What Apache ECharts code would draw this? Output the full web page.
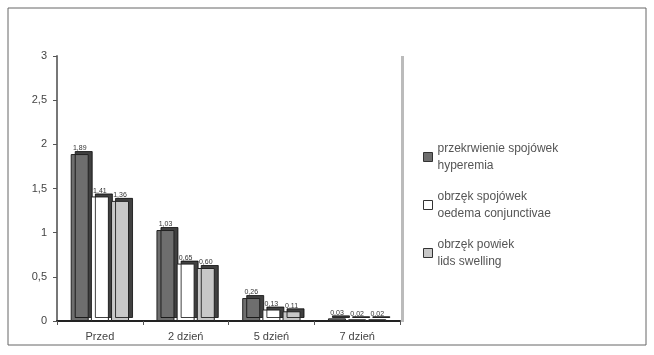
<!DOCTYPE html>
<html>
<head>
<meta charset="utf-8">
<script src="https://cdn.jsdelivr.net/npm/echarts@6/dist/echarts.min.js"></script>
<style>
  html, body { margin: 0; padding: 0; background: #fff; }
  #main { width: 654px; height: 355px; }
</style>
</head>
<body>
<div id="main"></div>
<script>
var categories = ['Przed', '2 dzień', '5 dzień', '7 dzień'];
var hyperemia = [1.89, 1.03, 0.26, 0.03];
var oedema = [1.41, 0.65, 0.13, 0.02];
var swelling = [1.36, 0.6, 0.11, 0.02];
var seriesNames = [
  'przekrwienie spojówek\nhyperemia',
  'obrzęk spojówek\noedema conjunctivae',
  'obrzęk powiek\nlids swelling'
];
var yTicks = [0, 0.5, 1, 1.5, 2, 2.5, 3];

var chart = echarts.init(document.getElementById('main'));

var textStyle = {
  color: '#444',
  fontSize: 11,
  fontFamily: 'Liberation Sans'
};

function comma(v) {
  return String(v).replace('.', ',');
}

function barSeries(name, data, color) {
  return {
    name: name,
    type: 'bar',
    data: data,
    barWidth: 18,
    barGap: '12%',
    itemStyle: {
      color: color,
      borderColor: '#222',
      borderWidth: 1,
      shadowColor: 'rgba(0,0,0,0.75)',
      shadowOffsetX: 4,
      shadowOffsetY: -3
    },
    label: {
      show: true,
      position: 'top',
      distance: 2,
      fontSize: 7,
      color: '#333',
      fontFamily: 'Liberation Sans',
      formatter: function (p) { return comma(p.value.toFixed(2)); }
    }
  };
}

var option = {
  backgroundColor: '#fff',
  animation: false,
  grid: {
    left: 57,
    right: 254,
    top: 56,
    bottom: 34
  },
  legend: {
    orient: 'vertical',
    left: 418,
    top: 135,
    itemWidth: 9,
    itemHeight: 9,
    itemGap: 14,
    icon: 'rect',
    textStyle: {
      color: '#555',
      fontSize: 12,
      lineHeight: 17,
      fontFamily: 'Liberation Sans'
    },
    data: seriesNames.map(function (n, i) {
      return {
        name: n,
        itemStyle: { borderColor: '#333', borderWidth: 1 }
      };
    })
  },
  xAxis: {
    type: 'category',
    data: categories,
    axisLine: { lineStyle: { color: '#222', width: 2 } },
    axisTick: { show: true, length: 4, lineStyle: { color: '#555' } },
    axisLabel: Object.assign({ margin: 10 }, textStyle)
  },
  yAxis: {
    type: 'value',
    min: 0,
    max: 3,
    interval: 0.5,
    axisLine: { show: true, lineStyle: { color: '#777', width: 2 } },
    axisTick: { show: true, length: 4, lineStyle: { color: '#555' } },
    splitLine: { show: false },
    axisLabel: Object.assign({
      margin: 10,
      formatter: function (v) {
        return yTicks.indexOf(v) >= 0 ? comma(v) : '';
      }
    }, textStyle)
  },
  graphic: [
    {
      type: 'rect',
      shape: { x: 8, y: 8, width: 638, height: 337 },
      style: { fill: 'none', stroke: '#666', lineWidth: 1 },
      silent: true
    },
    {
      type: 'rect',
      shape: { x: 401, y: 56, width: 3, height: 266 },
      style: { fill: '#bbb', stroke: 'none' },
      silent: true
    }
  ],
  series: [
    barSeries(seriesNames[0], hyperemia, '#6e6e6e'),
    barSeries(seriesNames[1], oedema, '#ffffff'),
    barSeries(seriesNames[2], swelling, '#c8c8c8')
  ]
};

chart.setOption(option);
</script>
</body>
</html>
